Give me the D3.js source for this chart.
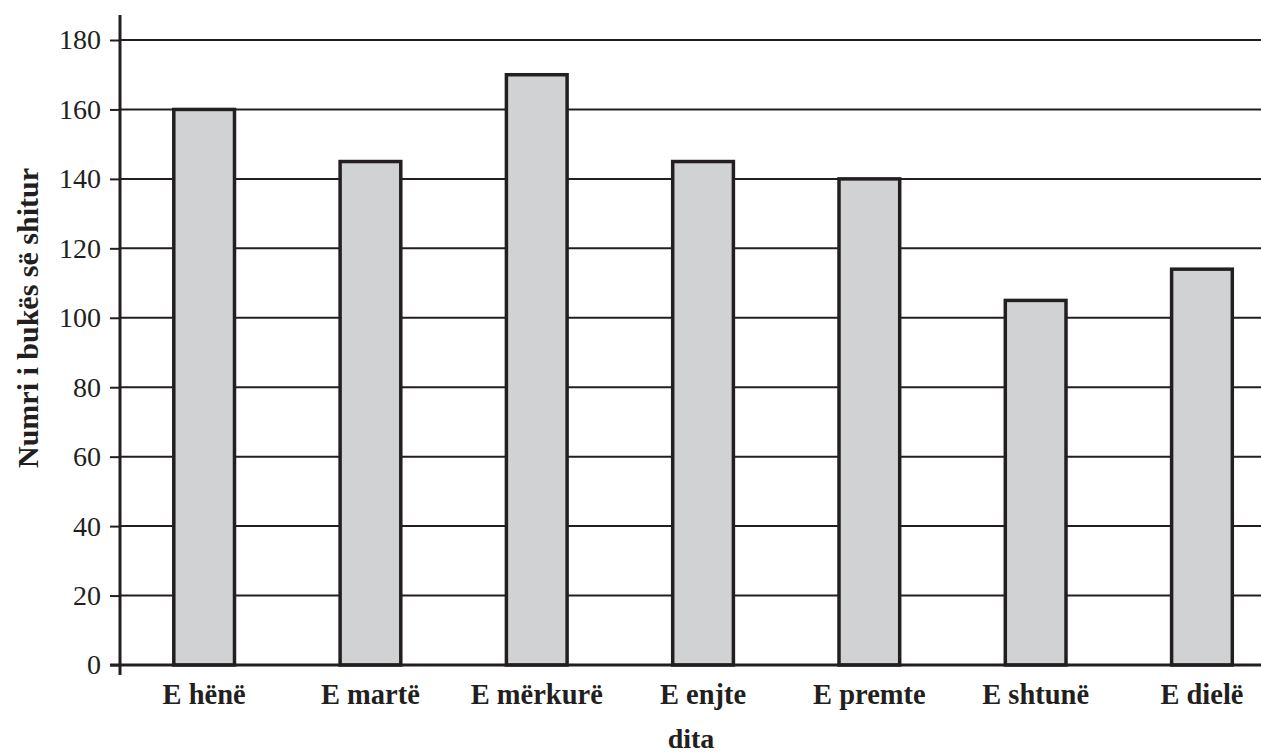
<!DOCTYPE html>
<html>
<head>
<meta charset="utf-8">
<script src="https://cdn.jsdelivr.net/npm/d3@7"></script>
<style>
  html, body { margin: 0; padding: 0; background: #fff; }
  svg { display: block; }
</style>
</head>
<body>
<svg id="chart" width="1261" height="756"></svg>
<script>
const categories = ["E hënë", "E martë", "E mërkurë", "E enjte", "E premte", "E shtunë", "E dielë"];
const values = [160, 145, 170, 145, 140, 105, 114];
const yTicks = [0, 20, 40, 60, 80, 100, 120, 140, 160, 180];
const xTitle = "dita";
const yTitle = "Numri i bukës së shitur";

const W = 1261, H = 756;
const axisX = 120, axisY = 665;
const ink = "#231f20";
const serif = "'Liberation Serif', 'DejaVu Serif', serif";

const svg = d3.select("#chart");

const y = d3.scaleLinear().domain([0, 180]).range([axisY, 40]);
const x = d3.scaleBand()
  .domain(categories)
  .range([121, 121 + 7 * 166.3])
  .paddingInner(0.635)
  .paddingOuter(0.3175);

// gridlines
svg.append("g")
  .selectAll("line")
  .data(yTicks.filter(d => d > 0))
  .join("line")
  .attr("x1", axisX).attr("x2", W)
  .attr("y1", d => y(d)).attr("y2", d => y(d))
  .attr("stroke", ink).attr("stroke-width", 2);

// y axis ticks and labels
const yAxis = svg.append("g").attr("transform", `translate(${axisX},0)`)
  .call(d3.axisLeft(y).tickValues(yTicks).tickSize(10).tickPadding(9).tickFormat(d3.format("d")));
yAxis.select(".domain").remove();
yAxis.attr("font-family", null);
yAxis.selectAll(".tick line").attr("stroke", ink).attr("stroke-width", 2);
yAxis.selectAll(".tick text")
  .style("font-family", serif)
  .style("font-size", "28px")
  .style("fill", ink);

// bars
svg.append("g")
  .selectAll("rect")
  .data(values)
  .join("rect")
  .attr("x", (d, i) => x(categories[i]))
  .attr("y", d => y(d))
  .attr("width", x.bandwidth())
  .attr("height", d => axisY - y(d))
  .attr("fill", "#d1d2d4")
  .attr("stroke", ink)
  .attr("stroke-width", 3.5);

// x axis line
svg.append("line")
  .attr("x1", 110).attr("x2", W)
  .attr("y1", axisY).attr("y2", axisY)
  .attr("stroke", ink).attr("stroke-width", 3);

// y axis line
svg.append("line")
  .attr("x1", axisX).attr("x2", axisX)
  .attr("y1", 15).attr("y2", 675)
  .attr("stroke", ink).attr("stroke-width", 3);

// x labels
svg.append("g")
  .selectAll("text")
  .data(categories)
  .join("text")
  .attr("x", d => x(d) + x.bandwidth() / 2)
  .attr("y", 704)
  .attr("text-anchor", "middle")
  .style("font-family", serif)
  .style("font-size", "28.5px")
  .style("font-weight", "bold")
  .style("fill", ink)
  .text(d => d);

// x title
svg.append("text")
  .attr("x", 691).attr("y", 748)
  .attr("text-anchor", "middle")
  .style("font-family", serif)
  .style("font-size", "28px")
  .style("font-weight", "bold")
  .style("fill", ink)
  .text(xTitle);

// y title
svg.append("text")
  .attr("transform", "translate(38,318) rotate(-90)")
  .attr("text-anchor", "middle")
  .style("font-family", serif)
  .style("font-size", "30px")
  .style("font-weight", "bold")
  .style("fill", ink)
  .text(yTitle);
</script>
</body>
</html>
